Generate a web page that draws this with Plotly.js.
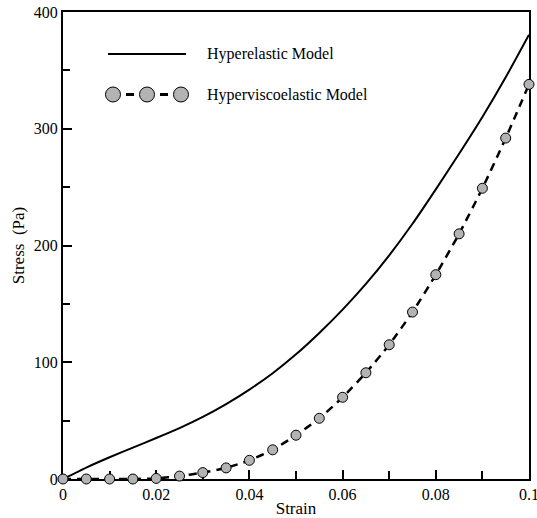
<!DOCTYPE html>
<html>
<head>
<meta charset="utf-8">
<script src="https://cdn.plot.ly/plotly-3.0.1.min.js"></script>
</head>
<body style="margin:0;background:#fff">
<div id="chart"></div>
<script>
// ---- data ----
const strain = [0, 0.005, 0.01, 0.015, 0.02, 0.025, 0.03, 0.035, 0.04, 0.045, 0.05,
                0.055, 0.06, 0.065, 0.07, 0.075, 0.08, 0.085, 0.09, 0.095, 0.1];
const hyperelastic = [0, 9.8, 18.6, 26.9, 35.1, 43.6, 53.2, 64.2, 76.6, 90.6, 106.8,
                      125.1, 145.1, 167.1, 191.6, 218.6, 248.1, 278.6, 310.1, 344.1, 380.6];
const hyperviscoelastic = [0, 0, 0, 0, 0.5, 2.5, 5.5, 9.5, 16, 25, 37.5,
                           52, 70, 91, 115, 143, 175, 210, 249, 292, 338];
const seriesNames = ["Hyperelastic Model", "Hyperviscoelastic Model"];
const xTickVals = [0, 0.02, 0.04, 0.06, 0.08, 0.1];
const xTickText = ["0", "0.02", "0.04", "0.06", "0.08", "0.1"];
const yTickVals = [0, 100, 200, 300, 400];
const yTickText = ["0", "100", "200", "300", "400"];

// ---- layout helpers (pixel -> paper) ----
const W = 537, H = 518;
const M = {l: 63, r: 8, t: 12, b: 39};
const PW = W - M.l - M.r, PH = H - M.t - M.b;
const px = x => (x - M.l) / PW;
const py = y => (H - M.b - y) / PH;

const FONT = "Liberation Serif";
const GREY = '#b3b3b3';

const traces = [
  {
    x: strain, y: hyperelastic, name: seriesNames[0],
    type: 'scatter', mode: 'lines',
    line: {color: '#000', width: 2, shape: 'spline', smoothing: 0.6},
    showlegend: false, hoverinfo: 'skip'
  },
  {
    x: strain, y: hyperviscoelastic, name: seriesNames[1],
    type: 'scatter', mode: 'lines+markers',
    line: {color: '#000', width: 2.5, dash: '8px,6px', shape: 'spline', smoothing: 0.6},
    marker: {symbol: 'circle', size: 10, color: GREY, line: {color: '#000', width: 1}},
    cliponaxis: false,
    showlegend: false, hoverinfo: 'skip'
  }
];

// custom legend drawn with shapes and annotations
const r = 7.5;
const legY1 = 54, legY2 = 94.5;
const circleXs = [113, 147, 181];
const shapes = [
  {type: 'line', xref: 'paper', yref: 'paper', x0: px(108), x1: px(186), y0: py(legY1), y1: py(legY1),
   line: {color: '#000', width: 2}},
  {type: 'line', xref: 'paper', yref: 'paper', x0: px(126), x1: px(134), y0: py(legY2), y1: py(legY2),
   line: {color: '#000', width: 3}},
  {type: 'line', xref: 'paper', yref: 'paper', x0: px(160), x1: px(168), y0: py(legY2), y1: py(legY2),
   line: {color: '#000', width: 3}}
];
circleXs.forEach(cx => shapes.push({
  type: 'circle', xref: 'paper', yref: 'paper',
  x0: px(cx - r), x1: px(cx + r), y0: py(legY2 + r), y1: py(legY2 - r),
  fillcolor: GREY, line: {color: '#000', width: 1}
}));
const annotations = [
  {xref: 'paper', yref: 'paper', x: px(205), y: py(legY1), xanchor: 'left', yanchor: 'middle',
   text: seriesNames[0], showarrow: false, font: {family: FONT, size: 16}},
  {xref: 'paper', yref: 'paper', x: px(205), y: py(legY2), xanchor: 'left', yanchor: 'middle',
   text: seriesNames[1], showarrow: false, font: {family: FONT, size: 16}}
];

const axisCommon = {
  showgrid: false, zeroline: false,
  showline: true, linecolor: '#000', linewidth: 2, mirror: true,
  ticks: 'inside', ticklen: 9, tickwidth: 1.5, tickcolor: '#000',
  tickfont: {family: FONT, size: 16},
  ticklabeloverflow: 'allow',
  layer: 'below traces'
};

const layout = {
  width: W, height: H,
  margin: M,
  font: {color: '#000'},
  showlegend: false,
  xaxis: Object.assign({}, axisCommon, {
    range: [0, 0.1], tickmode: 'array', tickvals: xTickVals, ticktext: xTickText,
    minor: {dtick: 0.01, ticks: 'inside', ticklen: 8, tickwidth: 1.5, tickcolor: '#000'},
    title: {text: 'Strain', font: {family: FONT, size: 17}, standoff: 6}
  }),
  yaxis: Object.assign({}, axisCommon, {
    range: [0, 400], tickmode: 'array', tickvals: yTickVals, ticktext: yTickText,
    minor: {dtick: 50, ticks: 'inside', ticklen: 7, tickwidth: 1.5, tickcolor: '#000'},
    title: {text: 'Stress&nbsp;&nbsp;(Pa)', font: {family: FONT, size: 17}, standoff: 5}
  }),
  shapes: shapes,
  annotations: annotations
};

Plotly.newPlot('chart', traces, layout, {displayModeBar: false});
</script>
</body>
</html>
